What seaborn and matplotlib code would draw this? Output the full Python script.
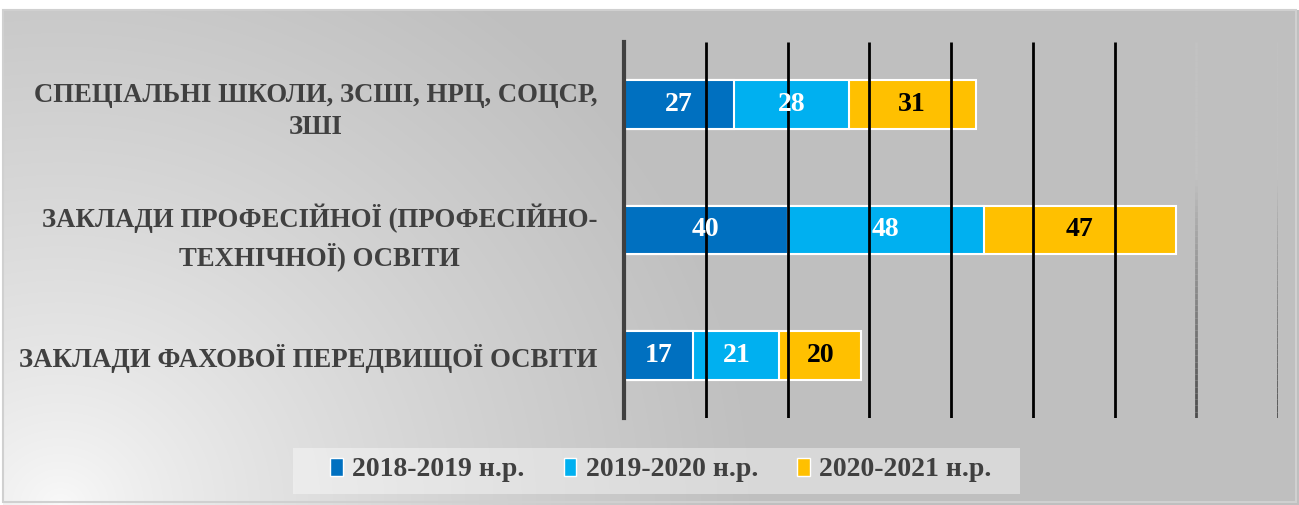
import numpy as np
import pandas as pd
import matplotlib
matplotlib.use("Agg")
import matplotlib.pyplot as plt
import seaborn as sns
from matplotlib.collections import LineCollection
from matplotlib.patches import Rectangle, Patch

# ---- data ----
categories = [
    "СПЕЦІАЛЬНІ ШКОЛИ, ЗСШІ, НРЦ, СОЦСР,\nЗШІ",
    "ЗАКЛАДИ ПРОФЕСІЙНОЇ (ПРОФЕСІЙНО-\nТЕХНІЧНОЇ) ОСВІТИ",
    "ЗАКЛАДИ ФАХОВОЇ ПЕРЕДВИЩОЇ ОСВІТИ",
]
series = ["2018-2019 н.р.", "2019-2020 н.р.", "2020-2021 н.р."]
v2018 = [27, 40, 17]
v2019 = [28, 48, 21]
v2020 = [31, 47, 20]
grid_ticks = [0, 20, 40, 60, 80, 100, 120, 140, 160]

colors = ["#0070C0", "#00B0F0", "#FFC000"]
label_colors = ["white", "white", "black"]
text_gray = "#404040"

sns.set_theme(style="white")
plt.rcParams["font.family"] = ["Liberation Serif", "DejaVu Serif"]

W, H = 1299, 505
fig = plt.figure(figsize=(W / 100, H / 100), dpi=100)

# ---- background gradient + frame ----
bg = fig.add_axes([0, 0, 1, 1], zorder=-10)
yy, xx = np.mgrid[0:H, 0:W]
d = np.hypot(xx - 60, (yy - 505) * 1.1)
t = np.clip(d / 700.0, 0, 1) ** 0.75
g = 0.98 - t * (0.98 - 0.75)
img = np.dstack([g, g, g])
img[:10, :, :] = 1.0
img[:, :3, :] = 1.0
bg.imshow(img, extent=[0, W, H, 0], aspect="auto", interpolation="bilinear")
bg.add_patch(Rectangle((3, 10), W - 6, H - 13, fill=False, ec="#d0d0d0", lw=1.5))
# legend backdrop
bg.add_patch(Rectangle((293, 448), 727, 46, facecolor="white", alpha=0.4, ec="none"))
bg.set_xlim(0, W)
bg.set_ylim(H, 0)
bg.axis("off")

# ---- main axes ----
ax = fig.add_axes([624 / W, 1 - 418 / H, 654 / W, 376 / H])
ax.patch.set_alpha(0)

vals = np.array([v2018, v2019, v2020], dtype=float)
cum = np.cumsum(vals, axis=0)

for k in reversed(range(3)):
    df = pd.DataFrame({"category": categories, "value": cum[k]})
    sns.barplot(data=df, x="value", y="category", orient="h", color=colors[k],
                saturation=1, width=0.39, edgecolor="white", linewidth=1.5,
                errorbar=None, ax=ax, zorder=2)

ax.set_xlim(0, 160)
ax.set_ylim(2.5, -0.5)
ax.set_xticks([])
ax.set_xlabel("")
ax.set_ylabel("")

# gridlines
ax.vlines(grid_ticks[1:7], -0.5, 2.5, colors="black", lw=2, zorder=3)
nseg = 60
ys = np.linspace(-0.5, 2.5, nseg + 1)
for gx in grid_ticks[7:]:
    segs = [[(gx, ys[i]), (gx, ys[i + 1])] for i in range(nseg)]
    frac = np.clip((np.linspace(0, 1, nseg) - 0.35) / 0.65, 0, 1)
    cols = [(0.76 - 0.46 * f,) * 3 for f in frac]
    ax.add_collection(LineCollection(segs, colors=cols, lw=2, zorder=3))

for s in ["top", "right", "bottom"]:
    ax.spines[s].set_visible(False)
ax.spines["left"].set_color(text_gray)
ax.spines["left"].set_linewidth(3)
ax.spines["left"].set_zorder(5)

ax.tick_params(axis="y", length=0, pad=19)
for lbl in ax.get_yticklabels():
    lbl.set_fontsize(19.3)
    lbl.set_fontweight("bold")
    lbl.set_color(text_gray)
    lbl.set_multialignment("center")
    lbl.set_linespacing(1.4)

# value labels
for k in range(3):
    for i in range(3):
        ax.text(cum[k][i] - vals[k][i] / 2, i, f"{int(vals[k][i])}",
                ha="center", va="center", fontsize=20, fontweight="bold",
                color=label_colors[k], zorder=4)

# legend
handles = [Patch(facecolor=c, edgecolor="white", lw=1) for c in colors]
leg = fig.legend(handles, series, loc="center", bbox_to_anchor=(661 / W, 1 - 470 / H),
                 ncol=3, frameon=False, handlelength=0.45,
                 handleheight=0.6, handletextpad=0.35, columnspacing=1.4,
                 borderpad=0.4,
                 prop={"family": ["Liberation Serif"], "weight": "bold", "size": 20})
for txt in leg.get_texts():
    txt.set_color(text_gray)

fig.savefig("out.png", dpi=100)
